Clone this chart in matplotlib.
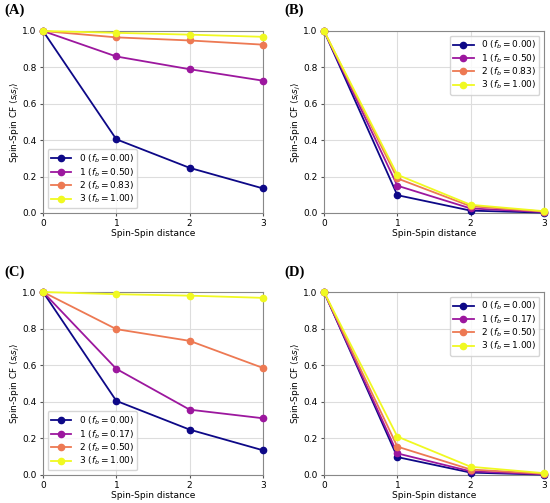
import numpy as np
import matplotlib
matplotlib.use("Agg")
import matplotlib.pyplot as plt

# ------------------------------------------------------------------
# Data
# ------------------------------------------------------------------
distance = [0, 1, 2, 3]

a_vals = [
    [1.0, 0.405, 0.248, 0.135],
    [1.0, 0.860, 0.790, 0.727],
    [1.0, 0.965, 0.948, 0.925],
    [1.0, 0.990, 0.980, 0.968],
]
b_vals = [
    [1.0, 0.098, 0.013, 0.002],
    [1.0, 0.150, 0.025, 0.005],
    [1.0, 0.190, 0.037, 0.008],
    [1.0, 0.210, 0.045, 0.010],
]
c_vals = [
    [1.0, 0.405, 0.248, 0.135],
    [1.0, 0.580, 0.357, 0.310],
    [1.0, 0.797, 0.733, 0.585],
    [1.0, 0.988, 0.980, 0.968],
]
d_vals = [
    [1.0, 0.098, 0.013, 0.002],
    [1.0, 0.118, 0.020, 0.004],
    [1.0, 0.155, 0.030, 0.007],
    [1.0, 0.210, 0.045, 0.010],
]

fb_ab = ["0.00", "0.50", "0.83", "1.00"]
fb_cd = ["0.00", "0.17", "0.50", "1.00"]

panels = [
    ("(A)", a_vals, fb_ab, "lower left"),
    ("(B)", b_vals, fb_ab, "upper right"),
    ("(C)", c_vals, fb_cd, "lower left"),
    ("(D)", d_vals, fb_cd, "upper right"),
]

colors = plt.cm.plasma(np.linspace(0, 1, 4))

# axes positions in pixels: left, top, width, height
fig_w, fig_h = 550, 503
boxes = [
    (43, 31, 220, 182),
    (324, 31, 220, 182),
    (43, 292, 220, 183),
    (324, 292, 220, 183),
]
tags = [(4, 10), (284, 10), (4, 272), (284, 272)]

fs = 6.5

fig = plt.figure(figsize=(5.5, 5.03), dpi=100)

for (tag, vals, fbs, loc), (l, t, w, h), (tx, ty) in zip(panels, boxes, tags):
    ax = fig.add_axes([l / fig_w, 1 - (t + h) / fig_h, w / fig_w, h / fig_h])

    for i, series in enumerate(vals):
        ax.plot(
            distance,
            series,
            marker="o",
            markersize=4.5,
            linewidth=1.3,
            color=colors[i],
            label=f"{i} ($f_b = {fbs[i]}$)",
            clip_on=False,
            zorder=3,
        )

    ax.set_xlim(0, 3)
    ax.set_ylim(0, 1)
    ax.set_xticks([0, 1, 2, 3])
    ax.set_yticks([0.0, 0.2, 0.4, 0.6, 0.8, 1.0])
    ax.tick_params(labelsize=fs, length=2.5, pad=2, color="#555555")
    ax.set_xlabel("Spin-Spin distance", fontsize=fs, labelpad=0.5)
    ax.set_ylabel(r"Spin-Spin CF $\langle s_i s_j \rangle$", fontsize=fs, labelpad=0.5)
    ax.grid(True, color="#dddddd", linewidth=0.8)
    ax.set_axisbelow(True)
    for sp in ax.spines.values():
        sp.set_color("#888888")

    ax.legend(loc=loc, fontsize=fs, handlelength=2.3, labelspacing=0.1,
              borderpad=0.35, borderaxespad=0.5)

    fig.text(tx / fig_w, 1 - ty / fig_h, tag, fontsize=10.5, fontweight="bold",
             family="Liberation Serif", va="center", ha="left")

plt.savefig("out.png", dpi=100)
plt.close()
